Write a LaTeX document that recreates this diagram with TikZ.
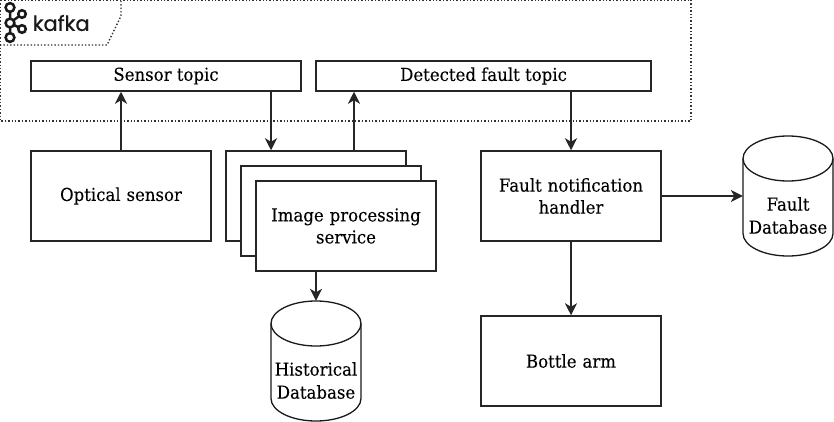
\documentclass[tikz,border=0pt]{standalone}
\usepackage{fontspec}
\setmainfont[FakeStretch=0.93,FakeBold=0.05]{DejaVu Serif}
\newfontfamily\logofont[FakeBold=0.7]{Poppins}
\usetikzlibrary{arrows.meta,calc}
\tikzset{
  box/.style={draw=black!85,line width=1.5pt,fill=white,inner sep=0pt,align=center,font=\fontsize{17.8}{22}\selectfont,text=black},
  bigbox/.style={box,minimum width=180pt,minimum height=90pt,text width=170pt},
  topic/.style={box,minimum height=30pt},
  cyl/.style={inner sep=0pt,minimum width=90pt,minimum height=120pt},
  cyltext/.style={inner sep=0pt,align=center,font=\fontsize{17.8}{23}\selectfont,text=black},
  cylline/.style={draw=black!90,line width=1.3pt,fill=white},
  conn/.style={draw=black!85,line width=1.5pt,-{Stealth[length=12pt,width=12pt,inset=3.5pt]}},
  frame/.style={draw=black!80,line width=1.4pt,dash pattern=on 1.4pt off 2pt}
}
\begin{document}
\begin{tikzpicture}[x=1pt,y=-1pt]
\useasboundingbox (0,0) rectangle (834,422);
\fill[white] (0,0) rectangle (834,422);
\draw[frame] (0,0) rectangle (691,121);
\draw[frame] (0,45) -- (107,45) -- (121,16) -- (121,0);
% logo
\begin{scope}[line width=2.5pt,draw=black!90]
  \coordinate (l1) at (10,7.5); \coordinate (l2) at (10,23); \coordinate (l3) at (10,37.5);
  \coordinate (l4) at (22,14); \coordinate (l5) at (22,29);
  \draw (l1) -- (l2) -- (l3) (l2) -- (l4) (l2) -- (l5);
  \foreach \c/\r in {l1/4.4,l2/4.4,l3/4.4,l4/3.8,l5/3.8} \draw[fill=white] (\c) circle (\r);
\end{scope}
\node[anchor=west,inner sep=0pt,font=\logofont\fontsize{21}{21}\selectfont,text=black!90] (logo) at (32.5,23) {kafka};
% topics
\node[topic,minimum width=270pt] (sensor) at (166,76) {Sensor topic};
\node[topic,minimum width=335pt] (detected) at (483.5,76) {Detected fault topic};
% boxes
\node[bigbox] (optical) at (121,196) {Optical sensor};
\node[bigbox] (stackA) at (316,196) {};
\node[bigbox] (stackB) at (331,211) {};
\node[bigbox] (stackC) at (346,226) {Image processing\\service};
\node[bigbox] (handler) at (571,196) {Fault notification\\handler};
\node[bigbox] (arm) at (571,361) {Bottle arm};
% cylinders
\foreach \cx/\cy in {316/361,788/196}{
  \draw[cylline] (\cx-45,\cy-37.5) arc[start angle=180,end angle=0,x radius=45,y radius=-22.5]
     -- (\cx+45,\cy+37.5) arc[start angle=0,end angle=-180,x radius=45,y radius=-22.5] -- cycle;
  \draw[cylline,fill=none] (\cx-45,\cy-37.5) arc[start angle=180,end angle=360,x radius=45,y radius=-22.5];
}
\node[cyl] (hist) at (316,361) {};
\node[cyl] (faultdb) at (788,196) {};
\node[cyltext] (histlabel) at ([yshift=-19.5pt]hist.center) {Historical\\Database};
\node[cyltext] (faultlabel) at ([yshift=-19.5pt]faultdb.center) {Fault\\Database};
% connectors
\draw[conn] (optical.north) -- (optical.north |- sensor.south);
\draw[conn] ([xshift=105pt]sensor.south) -- ([xshift=-45pt]stackA.north);
\draw[conn] ([xshift=38pt]stackA.north) -- ([xshift=-129.5pt]detected.south);
\draw[conn] ([xshift=87.5pt]detected.south) -- (handler.north);
\draw[conn] (handler.east) -- (faultdb.west);
\draw[conn] (handler.south) -- (arm.north);
\draw[conn] ([xshift=-30pt]stackC.south) -- (hist.north);
\end{tikzpicture}
\end{document}
